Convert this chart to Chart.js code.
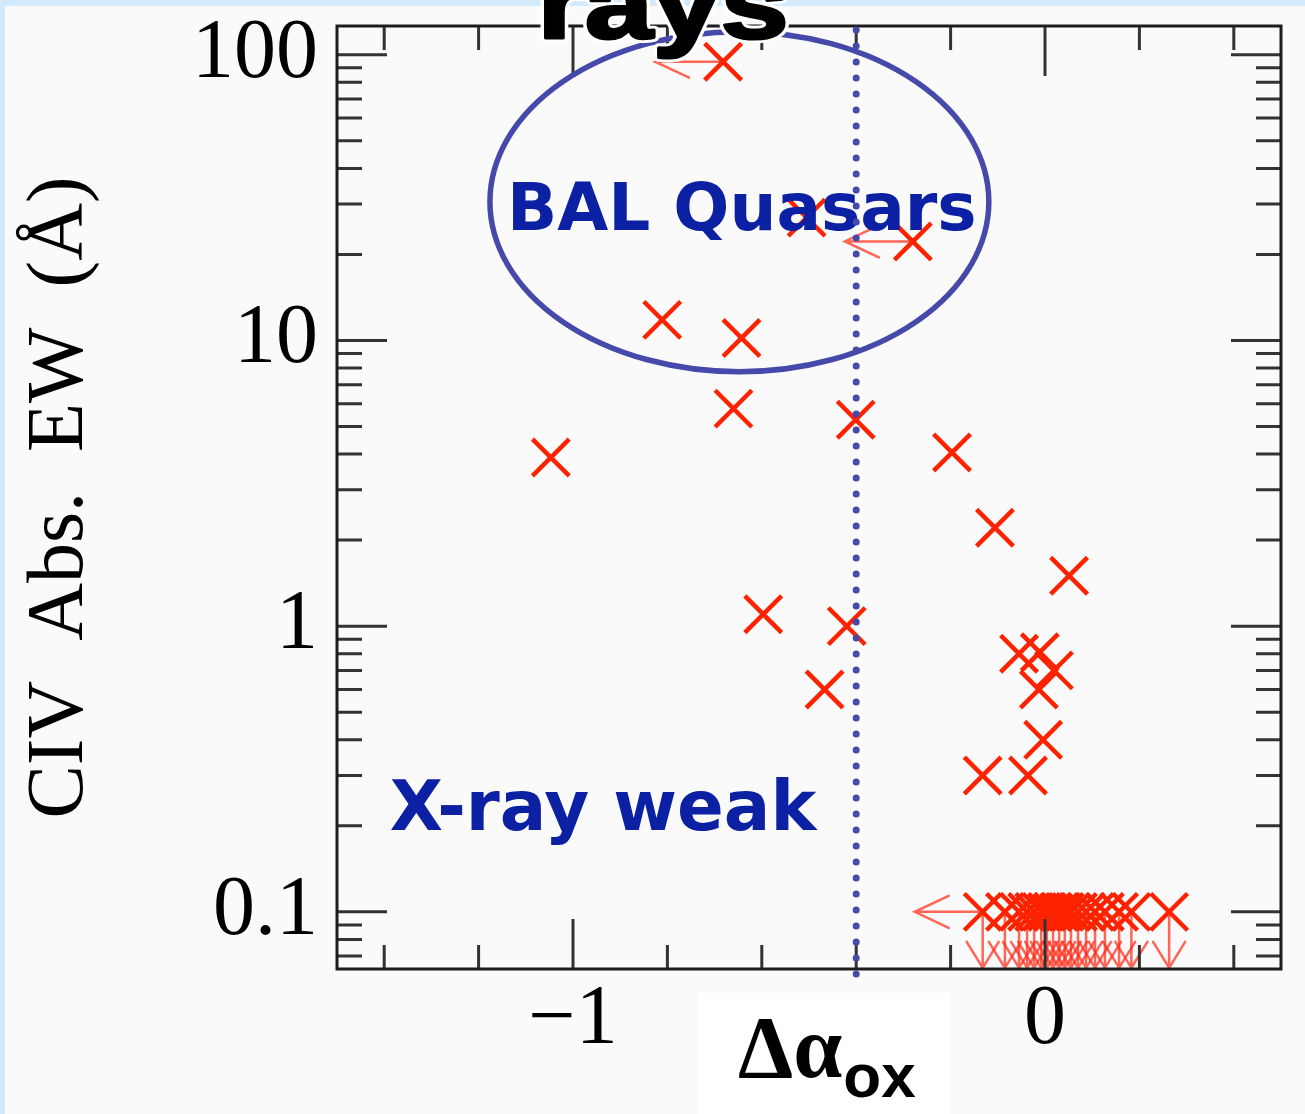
<!DOCTYPE html>
<html>
<head>
<meta charset="utf-8">
<script src="https://cdn.jsdelivr.net/npm/chart.js@4.4.1/dist/chart.umd.min.js"></script>
<style>
  html, body { margin: 0; padding: 0; background: #fafafa; }
  canvas { display: block; }
</style>
</head>
<body>
<canvas id="plot" width="1305" height="1114"></canvas>
<script>
// C IV absorption equivalent width against Δα_ox

// Detections
const detDalpha = [-0.505, -0.811, -0.643, -0.660, -0.401, -1.047, -0.197, -0.106, 0.051,
                   -0.597, -0.420, -0.467, -0.055, -0.011, 0.019, -0.013, -0.004, -0.132, -0.036];
const detEW     = [26.9, 11.8, 10.2, 5.77, 5.28, 3.89, 4.05, 2.21, 1.50,
                   1.10, 1.00, 0.60, 0.80, 0.81, 0.70, 0.60, 0.40, 0.30, 0.30];

// Upper limits on Δα_ox (left arrows)
const alphaLimDalpha = [-0.682, -0.280];
const alphaLimEW     = [94.5, 22.2];

// Upper limits on EW (down arrows)
const ewLimDalpha = [-0.085, -0.055, -0.038, -0.023, -0.008, 0.004, 0.017, 0.030, 0.042,
                     0.055, 0.070, 0.087, 0.106, 0.127, 0.157, 0.183, 0.263];
const ewLimEW     = [0.1, 0.1, 0.1, 0.1, 0.1, 0.1, 0.1, 0.1, 0.1,
                     0.1, 0.1, 0.1, 0.1, 0.1, 0.1, 0.1, 0.1];

// Upper limits on both quantities
const bothLimDalpha = [-0.132];
const bothLimEW     = [0.1];

// Axes
const xMajorTicks  = [-1, 0];
const xMajorLabels = ['\u22121', '0'];
const xMinorTicks  = [-1.4, -1.2, -0.8, -0.6, -0.4, -0.2, 0.2, 0.4];
const yMajorTicks  = [0.1, 1, 10, 100];
const yMajorLabels = ['0.1', '1', '10', '100'];
const yMinorTicks  = [0.07, 0.08, 0.09,
                      0.2, 0.3, 0.4, 0.5, 0.6, 0.7, 0.8, 0.9,
                      2, 3, 4, 5, 6, 7, 8, 9,
                      20, 30, 40, 50, 60, 70, 80, 90];

// Annotations (data coordinates)
const dividerDalpha = -0.4;
const balRegion = { xMin: -1.176, xMax: -0.119, yMin: 7.77, yMax: 120.4 };
const balLabel  = { text: 'BAL Quasars', x: -1.140, y: 24.4 };
const weakLabel = { text: 'X-ray weak',  x: -1.3885, y: 0.194 };

const RED = 'rgb(255,34,0)';
const ARROW_RED = 'rgba(255,45,25,0.72)';
const BLUE_LINE = '#4549a9';
const BLUE_TEXT = '#0b20a3';
const AXIS = '#1c1c1c';
const TICK = '#333333';

function pairs(xv, yv) { return xv.map((v, i) => ({ x: v, y: yv[i] })); }

const markerStyle = {
  pointStyle: 'crossRot',
  pointRadius: 26,
  pointHoverRadius: 26,
  pointBorderWidth: 4.5,
  pointHoverBorderWidth: 4.5,
  pointBorderColor: RED,
  pointHoverBorderColor: RED,
  pointBackgroundColor: 'rgba(0,0,0,0)',
  showLine: false
};

const datasets = [
  Object.assign({ label: 'detections', data: pairs(detDalpha, detEW), arrows: [] }, markerStyle),
  Object.assign({ label: 'Δα_ox limits', data: pairs(alphaLimDalpha, alphaLimEW), arrows: ['left'] }, markerStyle),
  Object.assign({ label: 'EW limits', data: pairs(ewLimDalpha, ewLimEW), arrows: ['down'] }, markerStyle),
  Object.assign({ label: 'both limits', data: pairs(bothLimDalpha, bothLimEW), arrows: ['left', 'down'] }, markerStyle)
];

function labelFor(value, ticks, labels) {
  for (let i = 0; i < ticks.length; i++) {
    if (Math.abs(ticks[i] - value) < 1e-9 * Math.max(1, Math.abs(ticks[i]))) return labels[i];
  }
  return null;
}

// Page background with the light blue slide edge
const backgroundPlugin = {
  id: 'pageBackground',
  beforeDraw(chart) {
    const ctx = chart.ctx;
    ctx.save();
    ctx.fillStyle = '#fafafa';
    ctx.fillRect(0, 0, chart.width, chart.height);
    ctx.fillStyle = '#d3e9fc';
    ctx.fillRect(0, 0, chart.width, 6);
    ctx.fillRect(0, 0, 5, chart.height);
    ctx.restore();
  }
};

// Limit arrows attached to the markers
const arrowPlugin = {
  id: 'limitArrows',
  beforeDatasetsDraw(chart) {
    const ctx = chart.ctx;
    ctx.save();
    ctx.strokeStyle = ARROW_RED;
    ctx.lineWidth = 2.5;
    ctx.lineCap = 'round';
    chart.data.datasets.forEach((ds, di) => {
      if (!ds.arrows || !ds.arrows.length) return;
      const meta = chart.getDatasetMeta(di);
      meta.data.forEach(pt => {
        const x = pt.x, y = pt.y;
        ds.arrows.forEach(dir => {
          ctx.beginPath();
          if (dir === 'left') {
            const tip = x - 68;
            ctx.moveTo(x, y); ctx.lineTo(tip, y);
            ctx.moveTo(tip + 34, y - 16); ctx.lineTo(tip, y); ctx.lineTo(tip + 34, y + 16);
          } else if (dir === 'down') {
            const tip = y + 56;
            ctx.moveTo(x, y); ctx.lineTo(x, tip);
            ctx.moveTo(x - 16, tip - 26); ctx.lineTo(x, tip); ctx.lineTo(x + 16, tip - 26);
          }
          ctx.stroke();
        });
      });
    });
    ctx.restore();
  }
};

// Box frame with inward ticks on all four sides, plus annotations
const framePlugin = {
  id: 'frameAndNotes',
  afterDatasetsDraw(chart) {
    const ctx = chart.ctx;
    const a = chart.chartArea;
    const xs = chart.scales.x, ys = chart.scales.y;
    ctx.save();

    // ticks
    ctx.strokeStyle = TICK;
    ctx.lineWidth = 3;
    ctx.lineCap = 'butt';
    const drawX = (v, len) => {
      const px = xs.getPixelForValue(v);
      ctx.beginPath();
      ctx.moveTo(px, a.bottom); ctx.lineTo(px, a.bottom - len);
      ctx.moveTo(px, a.top); ctx.lineTo(px, a.top + len);
      ctx.stroke();
    };
    const drawY = (v, len) => {
      const py = ys.getPixelForValue(v);
      ctx.beginPath();
      ctx.moveTo(a.left, py); ctx.lineTo(a.left + len, py);
      ctx.moveTo(a.right, py); ctx.lineTo(a.right - len, py);
      ctx.stroke();
    };
    xMinorTicks.forEach(v => drawX(v, 24));
    xMajorTicks.forEach(v => drawX(v, 50));
    yMinorTicks.forEach(v => drawY(v, 25));
    yMajorTicks.forEach(v => drawY(v, 50));

    // frame
    ctx.strokeStyle = AXIS;
    ctx.lineWidth = 3;
    ctx.strokeRect(a.left, a.top, a.right - a.left, a.bottom - a.top);

    // BAL region ellipse
    const ex0 = xs.getPixelForValue(balRegion.xMin), ex1 = xs.getPixelForValue(balRegion.xMax);
    const ey0 = ys.getPixelForValue(balRegion.yMax), ey1 = ys.getPixelForValue(balRegion.yMin);
    ctx.beginPath();
    ctx.ellipse((ex0 + ex1) / 2, (ey0 + ey1) / 2, (ex1 - ex0) / 2, (ey1 - ey0) / 2, 0, 0, Math.PI * 2);
    ctx.strokeStyle = BLUE_LINE;
    ctx.lineWidth = 5.5;
    ctx.stroke();

    // region labels
    ctx.fillStyle = BLUE_TEXT;
    ctx.textAlign = 'left';
    ctx.textBaseline = 'alphabetic';
    ctx.font = 'bold 66px "DejaVu Sans"';
    ctx.fillText(balLabel.text, xs.getPixelForValue(balLabel.x), ys.getPixelForValue(balLabel.y));
    ctx.font = 'bold 69px "DejaVu Sans"';
    ctx.fillText(weakLabel.text, xs.getPixelForValue(weakLabel.x), ys.getPixelForValue(weakLabel.y));

    // dotted divider
    const dx = xs.getPixelForValue(dividerDalpha);
    ctx.beginPath();
    ctx.setLineDash([0.1, 15.9]);
    ctx.lineCap = 'round';
    ctx.lineWidth = 7;
    ctx.strokeStyle = BLUE_LINE;
    ctx.moveTo(dx, a.top + 4);
    ctx.lineTo(dx, a.bottom + 10);
    ctx.stroke();
    ctx.setLineDash([]);
    ctx.restore();
  },
  afterDraw(chart) {
    const ctx = chart.ctx;
    ctx.save();

    // x-axis title on its white card
    ctx.fillStyle = '#ffffff';
    ctx.fillRect(698, 993, 252, 121);
    ctx.fillStyle = '#000000';
    ctx.textAlign = 'left';
    ctx.textBaseline = 'alphabetic';
    ctx.font = 'bold 88px "Liberation Serif"';
    const main = '\u0394\u03b1';
    ctx.fillText(main, 738, 1077);
    const w = ctx.measureText(main).width;
    ctx.font = 'bold 62px "Liberation Sans"';
    ctx.fillText('ox', 738 + w + 1, 1097);

    // slide heading, cut at the top edge
    ctx.translate(663, 38);
    ctx.scale(1, 0.8);
    ctx.font = 'bold 122px "Liberation Sans"';
    ctx.textAlign = 'center';
    ctx.lineJoin = 'round';
    ctx.strokeStyle = '#ffffff';
    ctx.lineWidth = 11;
    ctx.strokeText('rays', 0, 0);
    ctx.strokeStyle = '#000000';
    ctx.lineWidth = 4;
    ctx.strokeText('rays', 0, 0);
    ctx.fillText('rays', 0, 0);
    ctx.restore();
  }
};

new Chart(document.getElementById('plot'), {
  type: 'scatter',
  data: { datasets },
  options: {
    responsive: false,
    animation: false,
    devicePixelRatio: 1,
    layout: { autoPadding: false, padding: { top: 26, right: 24, left: 0, bottom: 0 } },
    plugins: { legend: { display: false }, tooltip: { enabled: false } },
    scales: {
      x: {
        type: 'linear',
        min: -1.5,
        max: 0.5,
        bounds: 'data',
        grid: { display: false, drawTicks: false },
        border: { display: false },
        afterBuildTicks: s => { s.ticks = xMajorTicks.map(v => ({ value: v })); },
        afterFit: s => { s.height = 145; s.paddingLeft = 0; s.paddingRight = 0; s.paddingTop = 0; s.paddingBottom = 0; },
        ticks: {
          autoSkip: false,
          maxRotation: 0,
          minRotation: 0,
          padding: 2,
          color: '#000',
          font: { family: 'Liberation Serif', size: 84 },
          callback: v => labelFor(v, xMajorTicks, xMajorLabels)
        }
      },
      y: {
        type: 'logarithmic',
        min: 0.0631,
        max: 126,
        bounds: 'data',
        grid: { display: false, drawTicks: false },
        border: { display: false },
        afterBuildTicks: s => { s.ticks = yMajorTicks.map(v => ({ value: v })); },
        afterFit: s => { s.width = 337; s.paddingLeft = 0; s.paddingRight = 0; s.paddingTop = 0; s.paddingBottom = 0; },
        ticks: {
          autoSkip: false,
          padding: 19,
          color: '#000',
          font: { family: 'Liberation Serif', size: 84 },
          callback: v => labelFor(v, yMajorTicks, yMajorLabels)
        },
        title: {
          display: true,
          text: 'CIV  Abs.  EW  (\u00c5)',
          color: '#000',
          font: { family: 'Liberation Serif', size: 80 },
          padding: { top: 13, bottom: 0 }
        }
      }
    }
  },
  plugins: [backgroundPlugin, arrowPlugin, framePlugin]
});
</script>
</body>
</html>
